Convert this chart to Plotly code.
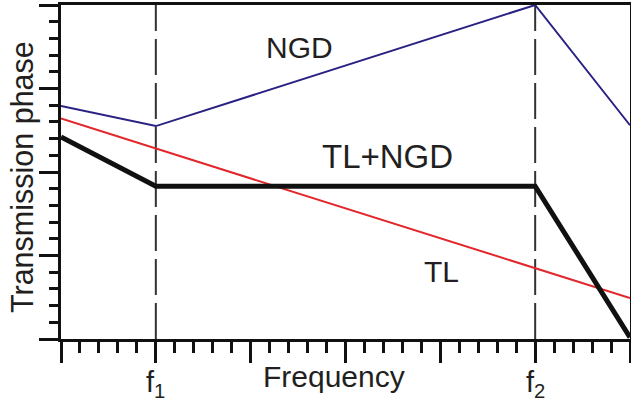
import plotly.graph_objects as go

# Data (normalized units: x major ticks 0..6, y major ticks 0..4)
ngd_x = [0, 1, 5, 6]
ngd_y = [2.79, 2.55, 4.0, 2.56]
tl_x = [0, 6]
tl_y = [2.64, 0.49]
sum_x = [0, 1, 5, 6]
sum_y = [2.42, 1.83, 1.83, 0.02]
f_vals = [1, 5]
f_labels = ["f<sub>1</sub>", "f<sub>2</sub>"]
x_tickvals = [0, 1, 2, 3, 4, 5, 6]
y_tickvals = [0, 1, 2, 3, 4]

FONT = "Liberation Sans, Arial, sans-serif"
TXT = "#231f20"

fig = go.Figure()
fig.add_trace(go.Scatter(x=tl_x, y=tl_y, mode="lines",
                         line=dict(color="#e3262b", width=2), hoverinfo="skip"))
fig.add_trace(go.Scatter(x=ngd_x, y=ngd_y, mode="lines",
                         line=dict(color="#2a2283", width=2), hoverinfo="skip"))
fig.add_trace(go.Scatter(x=sum_x, y=sum_y, mode="lines",
                         line=dict(color="#111111", width=5), hoverinfo="skip"))

for fv, fl in zip(f_vals, f_labels):
    fig.add_shape(type="line", x0=fv, x1=fv, y0=0, y1=4, xref="x", yref="y",
                  line=dict(color="#333333", width=2, dash="36px,8px"), layer="below")
    fig.add_annotation(x=fv, y=(339 - 384) / 334, xref="x", yref="paper",
                       text=fl, showarrow=False, xanchor="center", yanchor="middle",
                       font=dict(family=FONT, size=29, color=TXT))

fig.add_annotation(x=2.52, y=3.49, text="NGD", showarrow=False,
                   font=dict(family=FONT, size=30, color=TXT))
fig.add_annotation(x=3.44, y=2.18, text="TL+NGD", showarrow=False,
                   font=dict(family=FONT, size=33, color=TXT))
fig.add_annotation(x=4.01, y=0.81, text="TL", showarrow=False,
                   font=dict(family=FONT, size=30, color=TXT))
fig.add_annotation(x=(334 - 61) / 569, y=(339 - 376) / 334, xref="paper", yref="paper",
                   text="Frequency", showarrow=False, xanchor="center", yanchor="middle",
                   font=dict(family=FONT, size=30, color=TXT))
fig.add_annotation(x=(22 - 61) / 569, y=(339 - 177) / 334, xref="paper", yref="paper",
                   text="Transmission phase", textangle=-90, showarrow=False,
                   xanchor="center", yanchor="middle",
                   font=dict(family=FONT, size=30.5, color=TXT))

fig.update_layout(
    width=631, height=403,
    margin=dict(l=61, r=1, t=5, b=64, autoexpand=False),
    paper_bgcolor="white", plot_bgcolor="white",
    showlegend=False,
    xaxis=dict(range=[0, 6], tickmode="array", tickvals=x_tickvals,
               ticktext=["" for _ in x_tickvals], automargin=False,
               ticks="outside", ticklen=21, tickwidth=2.5, tickcolor="#111111",
               showline=True, linewidth=3, linecolor="#111111", mirror=True,
               showgrid=False, zeroline=False,
               minor=dict(dtick=0.2, ticks="outside", ticklen=11, tickwidth=2.5,
                          tickcolor="#111111", showgrid=False)),
    yaxis=dict(range=[0, 4], tickmode="array", tickvals=y_tickvals,
               ticktext=["" for _ in y_tickvals], automargin=False,
               ticks="outside", ticklen=19, tickwidth=2.5, tickcolor="#111111",
               showline=True, linewidth=3, linecolor="#111111", mirror=True,
               showgrid=False, zeroline=False,
               minor=dict(dtick=0.2, ticks="outside", ticklen=9, tickwidth=2.5,
                          tickcolor="#111111", showgrid=False)),
)

fig.write_html("out.html", config={"displayModeBar": False},
               post_script="document.body.style.margin='0';document.body.style.overflow='hidden';")
